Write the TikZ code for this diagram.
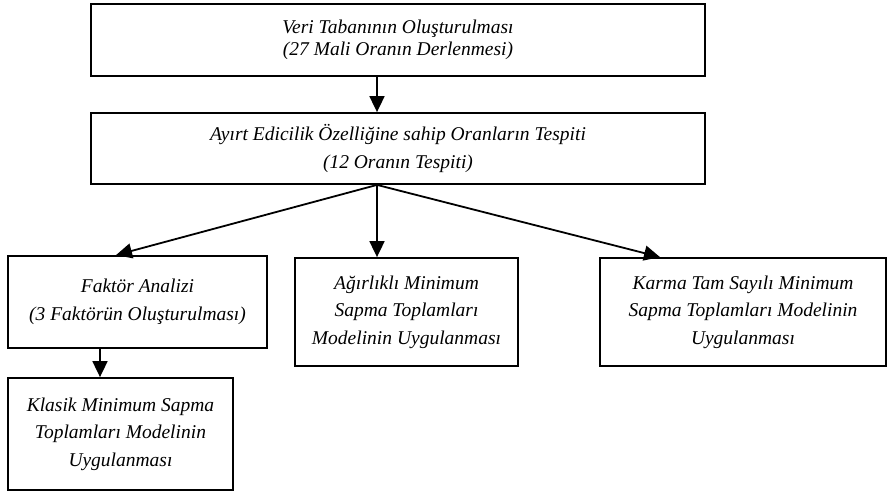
\documentclass[tikz,border=0pt]{standalone}
\usepackage{fontspec}
\setmainfont{Liberation Serif}
\usetikzlibrary{arrows.meta}
\tikzset{
  box/.style={draw=black, line width=1.8pt, fill=white, align=center, inner sep=2pt,
    font=\itshape\fontsize{19.5}{27.5}\selectfont},
  conn/.style={line width=1.8pt, -{Triangle[length=16pt,width=15pt]}}
}
\begin{document}
\begin{tikzpicture}[x=1pt,y=-1pt]
\useasboundingbox[fill=white] (0,0) rectangle (888,491);
\node[box, minimum width=614pt, minimum height=72pt, font=\itshape\fontsize{19.5}{22}\selectfont] (b1) at (398,40) {Veri Tabanının Oluşturulması\\(27 Mali Oranın Derlenmesi)};
\node[box, minimum width=614pt, minimum height=71pt] (b2) at (398,148.5) {Ayırt Edicilik Özelliğine sahip Oranların Tespiti\\(12 Oranın Tespiti)};
\node[box, minimum width=259pt, minimum height=92pt] (fa) at (137.5,302) {Faktör Analizi\\(3 Faktörün Oluşturulması)};
\node[box, minimum width=225pt, minimum height=112pt] (kl) at (120.5,434) {Klasik Minimum Sapma\\Toplamları Modelinin\\Uygulanması};
\node[box, minimum width=223pt, minimum height=108pt] (ag) at (406.5,312) {Ağırlıklı Minimum\\Sapma Toplamları\\Modelinin Uygulanması};
\node[box, minimum width=286pt, minimum height=108pt] (ka) at (743,312) {Karma Tam Sayılı Minimum\\Sapma Toplamları Modelinin\\Uygulanması};
\coordinate (ax) at (377,0);
\coordinate (fx) at (116,0);
\coordinate (kx) at (660,0);
\coordinate (lx) at (100,0);
\draw[conn] (b1.south -| ax) -- (b2.north -| ax);
\draw[conn] (b2.south -| ax) -- (fa.north -| fx);
\draw[conn] (b2.south -| ax) -- (ag.north -| ax);
\draw[conn] (b2.south -| ax) -- (ka.north -| kx);
\draw[conn] (fa.south -| lx) -- (kl.north -| lx);
\end{tikzpicture}
\end{document}
